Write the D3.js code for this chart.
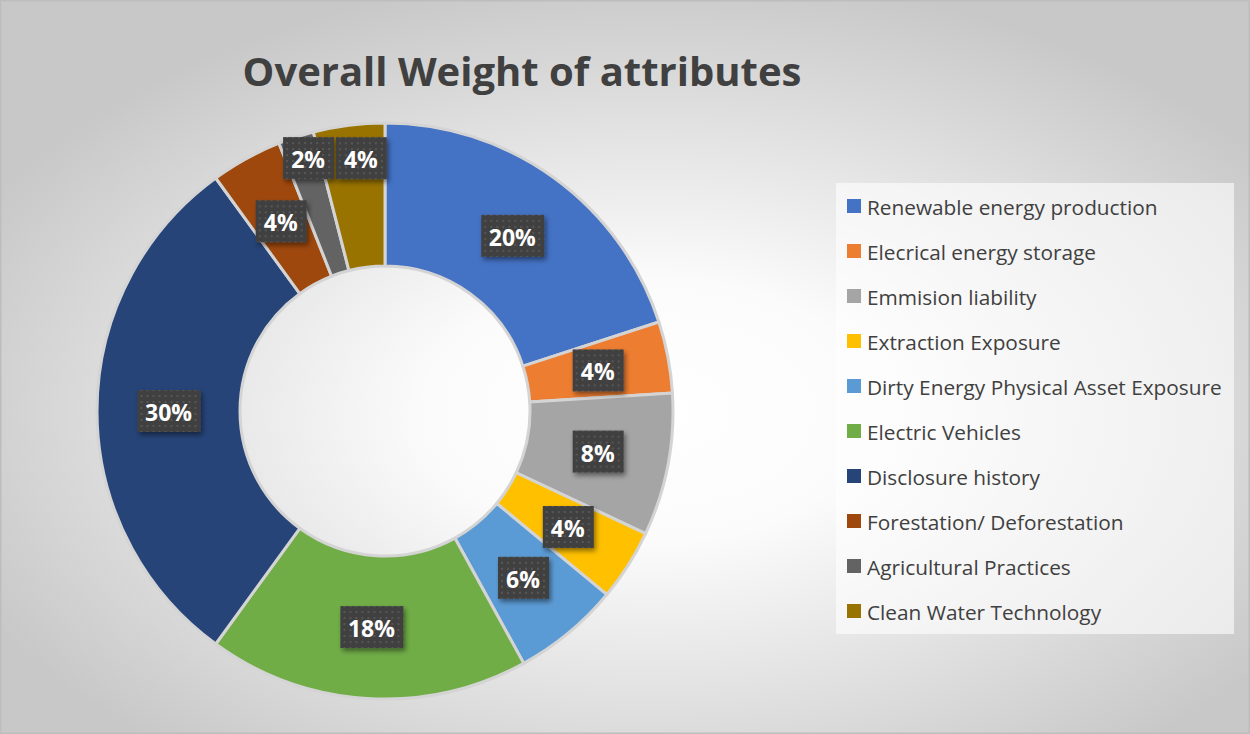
<!DOCTYPE html>
<html>
<head>
<meta charset="utf-8">
<script src="https://cdn.jsdelivr.net/npm/d3@7"></script>
<style>
  body { margin: 0; background: #fff; }
  svg { display: block; }
</style>
</head>
<body>
<div id="grafico"></div>
<script>
const categorias = [
    "Renewable energy production",
    "Elecrical energy storage",
    "Emmision liability",
    "Extraction Exposure",
    "Dirty Energy Physical Asset Exposure",
    "Electric Vehicles",
    "Disclosure history",
    "Forestation/ Deforestation",
    "Agricultural Practices",
    "Clean Water Technology"
];
const valores = [20, 4, 8, 4, 6, 18, 30, 4, 2, 4];
const colores = ["#4472C4", "#ED7D31", "#A5A5A5", "#FFC000", "#5B9BD5",
    "#70AD47", "#264478", "#9E480E", "#636363", "#997300"];

const ancho = 1250, alto = 734;
const centroX = 385, centroY = 411;
const radioExterior = 288, radioInterior = 145;
// las dos etiquetas de arriba se mueven para que no se encimen
const ajusteEtiqueta = { 8: [-10, -47], 9: [3, -38] };

const $svg = d3.select("#grafico")
    .append("svg")
    .attr("width", ancho)
    .attr("height", alto);

const defs = $svg.append("defs");

const fondo = defs.append("radialGradient")
    .attr("id", "fondo")
    .attr("cx", "0.52").attr("cy", "0.56").attr("r", "0.6");
fondo.append("stop").attr("offset", "0").attr("stop-color", "#ffffff");
fondo.append("stop").attr("offset", "0.3").attr("stop-color", "#fbfbfb");
fondo.append("stop").attr("offset", "1").attr("stop-color", "#c8c8c8");

const puntos = defs.append("pattern")
    .attr("id", "puntos")
    .attr("width", 6).attr("height", 6)
    .attr("patternUnits", "userSpaceOnUse");
puntos.append("rect").attr("width", 6).attr("height", 6).attr("fill", "#404040");
puntos.append("rect").attr("x", 2).attr("y", 2).attr("width", 2).attr("height", 2).attr("fill", "#565656");

const sombra = defs.append("filter")
    .attr("id", "sombra")
    .attr("x", "-30%").attr("y", "-30%").attr("width", "160%").attr("height", "170%");
sombra.append("feDropShadow")
    .attr("dx", 2).attr("dy", 3)
    .attr("stdDeviation", 2.5)
    .attr("flood-color", "#000")
    .attr("flood-opacity", 0.45);

// fondo y borde
$svg.append("rect")
    .attr("x", 0.5).attr("y", 0.5)
    .attr("width", ancho - 1).attr("height", alto - 1)
    .attr("fill", "url(#fondo)")
    .attr("stroke", "#bdbdbd")
    .attr("stroke-width", 2);

$svg.append("text")
    .attr("x", 522)
    .attr("y", 86)
    .attr("fill", "#404040")
    .attr("font-size", 40)
    .attr("font-weight", "bold")
    .attr("font-family", "'Open Sans', sans-serif")
    .style("text-anchor", "middle")
    .text("Overall Weight of attributes");

const pie = d3.pie().sort(null).value(d => d);
const arco = d3.arc().innerRadius(radioInterior).outerRadius(radioExterior);
const rebanadas = pie(valores);

const grupo = $svg.append("g")
    .attr("transform", `translate(${centroX},${centroY})`);

grupo.selectAll("path")
    .data(rebanadas)
    .join("path")
    .attr("d", arco)
    .attr("fill", (d, i) => colores[i])
    .attr("stroke", "#d4d4d4")
    .attr("stroke-width", 3)
    .attr("stroke-linejoin", "round");

const etiquetas = grupo.selectAll("g.etiqueta")
    .data(rebanadas)
    .join("g")
    .attr("class", "etiqueta")
    .attr("transform", (d, i) => {
        const [x, y] = arco.centroid(d);
        const [dx, dy] = ajusteEtiqueta[i] || [0, 0];
        return `translate(${x + dx},${y + dy})`;
    });

etiquetas.append("rect")
    .attr("x", d => d.data >= 10 ? -31 : -25)
    .attr("y", -21)
    .attr("width", d => d.data >= 10 ? 63 : 51)
    .attr("height", 42)
    .attr("fill", "url(#puntos)")
    .attr("filter", "url(#sombra)");

etiquetas.append("text")
    .attr("fill", "#ffffff")
    .attr("font-size", 23)
    .attr("font-weight", "bold")
    .attr("font-family", "'Open Sans', sans-serif")
    .style("text-anchor", "middle")
    .style("dominant-baseline", "central")
    .attr("y", 1)
    .text(d => d.data + "%");

// leyenda
const leyenda = $svg.append("g");
leyenda.append("rect")
    .attr("x", 836).attr("y", 183)
    .attr("width", 398).attr("height", 451)
    .attr("fill", "#ffffff")
    .attr("fill-opacity", 0.6);

const filas = d3.scalePoint()
    .domain(categorias)
    .range([206, 611]);

const fila = leyenda.selectAll("g.fila")
    .data(categorias)
    .join("g")
    .attr("class", "fila")
    .attr("transform", d => `translate(847,${filas(d)})`);

fila.append("rect")
    .attr("x", 0).attr("y", -7)
    .attr("width", 14).attr("height", 14)
    .attr("fill", (d, i) => colores[i]);

fila.append("text")
    .attr("x", 20)
    .attr("y", 1)
    .attr("fill", "#404040")
    .attr("font-size", 20.8)
    .attr("font-family", "'Open Sans', sans-serif")
    .style("dominant-baseline", "central")
    .text(d => d);
</script>
</body>
</html>
